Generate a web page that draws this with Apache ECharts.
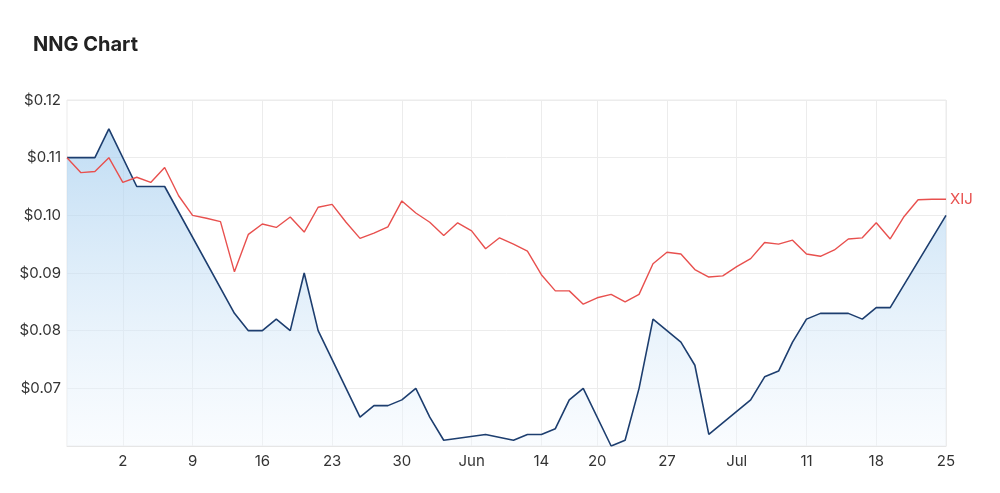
<!DOCTYPE html>
<html>
<head>
<meta charset="utf-8">
<script src="https://cdn.jsdelivr.net/npm/echarts@6/dist/echarts.min.js"></script>
<style>
html,body{margin:0;padding:0;background:#fff;}
#chart{width:1000px;height:493px;}
</style>
</head>
<body>
<div id="chart"></div>
<script>
// Trading days (category axis)
const dates = [
  '2022-04-26','2022-04-27','2022-04-28','2022-04-29',
  '2022-05-02','2022-05-03','2022-05-04','2022-05-05','2022-05-06',
  '2022-05-09','2022-05-10','2022-05-11','2022-05-12','2022-05-13',
  '2022-05-16','2022-05-17','2022-05-18','2022-05-19','2022-05-20',
  '2022-05-23','2022-05-24','2022-05-25','2022-05-26','2022-05-27',
  '2022-05-30','2022-05-31','2022-06-01','2022-06-02','2022-06-03',
  '2022-06-06','2022-06-07','2022-06-08','2022-06-09','2022-06-10',
  '2022-06-14','2022-06-15','2022-06-16','2022-06-17',
  '2022-06-20','2022-06-21','2022-06-22','2022-06-23','2022-06-24',
  '2022-06-27','2022-06-28','2022-06-29','2022-06-30','2022-07-01',
  '2022-07-04','2022-07-05','2022-07-06','2022-07-07','2022-07-08',
  '2022-07-11','2022-07-12','2022-07-13','2022-07-14','2022-07-15',
  '2022-07-18','2022-07-19','2022-07-20','2022-07-21','2022-07-22',
  '2022-07-25'
];

// NNG share price (null = no trade that day)
const nng = [
  0.110, 0.110, 0.110, 0.115,
  null, 0.105, 0.105, 0.105, null,
  null, null, null, 0.083, 0.080,
  0.080, 0.082, 0.080, 0.090, 0.080,
  null, null, 0.065, 0.067, 0.067,
  0.068, 0.070, 0.065, 0.061, null,
  null, 0.062, null, 0.061, 0.062,
  0.062, 0.063, 0.068, 0.070,
  null, 0.060, 0.061, 0.070, 0.082,
  null, 0.078, 0.074, 0.062, null,
  null, 0.068, 0.072, 0.073, 0.078,
  0.082, 0.083, 0.083, 0.083, 0.082,
  0.084, 0.084, null, null, null,
  0.100
];

// XIJ index, rebased to NNG start price
const xij = [
  0.1100, 0.1074, 0.1076, 0.1100,
  0.1057, 0.1066, 0.1057, 0.1083, 0.1034,
  0.1000, 0.0995, 0.0989, 0.0902, 0.0967,
  0.0985, 0.0979, 0.0997, 0.0971, 0.1014,
  0.1019, 0.0988, 0.0960, 0.0969, 0.0980,
  0.1025, 0.1004, 0.0988, 0.0965, 0.0987,
  0.0973, 0.0942, 0.0961, 0.0950, 0.0938,
  0.0897, 0.0869, 0.0869, 0.0846,
  0.0857, 0.0863, 0.0850, 0.0863, 0.0916,
  0.0936, 0.0933, 0.0906, 0.0893, 0.0895,
  0.0911, 0.0925, 0.0953, 0.0950, 0.0957,
  0.0933, 0.0929, 0.0940, 0.0959, 0.0961,
  0.0987, 0.0959, 0.0998, 0.1027, 0.1028,
  0.1028
];

// x-axis tick dates and their labels
const tickDates  = ['2022-05-02','2022-05-09','2022-05-16','2022-05-23','2022-05-30','2022-06-06','2022-06-14','2022-06-20','2022-06-27','2022-07-04','2022-07-11','2022-07-18','2022-07-25'];
const tickLabels = ['2','9','16','23','30','Jun','14','20','27','Jul','11','18','25'];

// y-axis
const yMin = 0.06, yMax = 0.12, yStep = 0.01;

const FONT = 'Inter, "Noto Sans", sans-serif';
const isTick = (i) => tickDates.indexOf(dates[i]) >= 0;

const chart = echarts.init(document.getElementById('chart'), null, {renderer: 'canvas'});
chart.setOption({
  animation: false,
  backgroundColor: '#ffffff',
  title: {
    text: 'NNG Chart',
    left: 28, top: 30,
    textStyle: {fontFamily: FONT, fontSize: 20, fontWeight: 'bold', color: '#222'}
  },
  grid: {
    left: 67, right: 54, top: 100, bottom: 47,
    show: true, borderColor: '#ebebeb', borderWidth: 1
  },
  xAxis: {
    type: 'category',
    data: dates,
    boundaryGap: false,
    axisLine: {show: true, lineStyle: {color: '#e6e6e6'}},
    axisTick: {show: false},
    axisLabel: {
      interval: (i) => isTick(i),
      formatter: (v) => tickLabels[tickDates.indexOf(v)],
      fontFamily: FONT, fontSize: 15, color: '#333', margin: 8
    },
    splitLine: {show: true, interval: (i) => isTick(i), lineStyle: {color: '#ececec'}}
  },
  yAxis: {
    type: 'value',
    min: yMin, max: yMax, interval: yStep,
    axisLine: {show: false},
    axisTick: {show: false},
    axisLabel: {
      showMinLabel: false,
      formatter: (v) => '$' + v.toFixed(2),
      fontFamily: FONT, fontSize: 15, color: '#333', margin: 6
    },
    splitLine: {lineStyle: {color: '#ececec'}}
  },
  series: [
    {
      name: 'NNG',
      type: 'line',
      data: nng,
      connectNulls: true,
      symbol: 'none',
      lineStyle: {color: '#1d3e6f', width: 1.6},
      itemStyle: {color: '#1d3e6f'},
      areaStyle: {
        color: new echarts.graphic.LinearGradient(0, 0, 0, 1, [
          {offset: 0, color: 'rgba(160,203,238,0.95)'},
          {offset: 1, color: 'rgba(242,248,254,0.6)'}
        ])
      },
      z: 2
    },
    {
      name: 'XIJ',
      type: 'line',
      data: xij,
      symbol: 'none',
      lineStyle: {color: '#e8504e', width: 1.4},
      itemStyle: {color: '#e8504e'},
      endLabel: {
        show: true,
        formatter: 'XIJ',
        color: '#e8504e',
        fontFamily: FONT,
        fontSize: 15,
        distance: 4
      },
      z: 3
    }
  ]
});
</script>
</body>
</html>
